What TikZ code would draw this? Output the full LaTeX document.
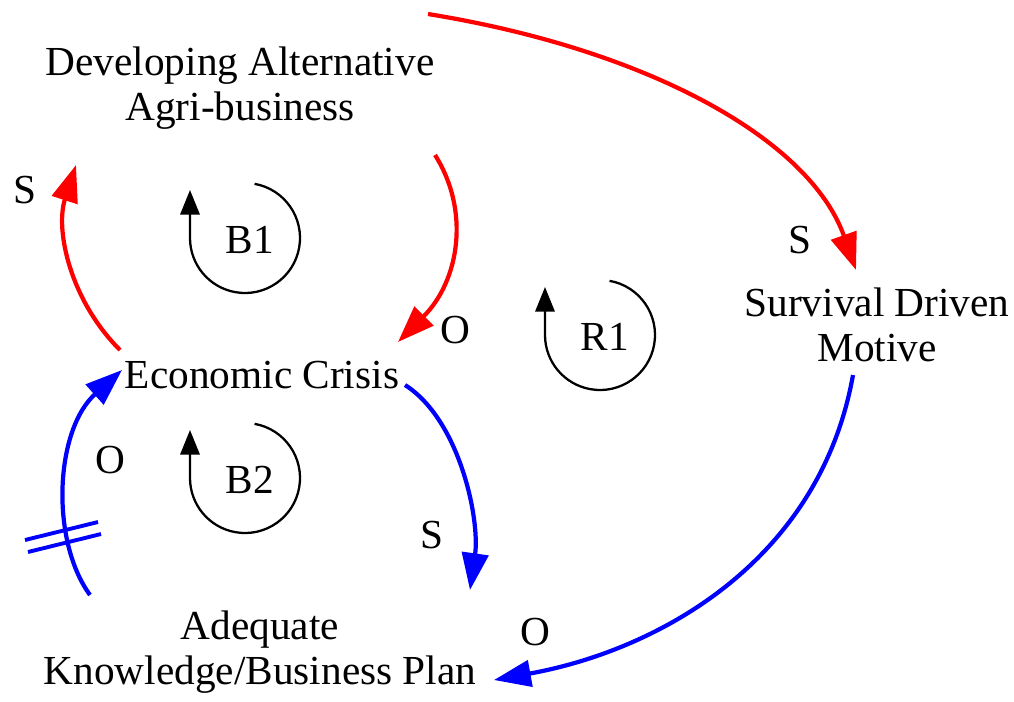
\documentclass[tikz,border=0pt]{standalone}
\usepackage{fontspec}
\setmainfont{Liberation Serif}
\usetikzlibrary{arrows.meta}
\begin{document}
\begin{tikzpicture}[x=0.02cm,y=-0.02cm,
  lbl/.style={font=\fontsize{23.5}{26}\selectfont,align=center,inner sep=1pt},
  conn/.style={line width=2.4pt,-{Triangle[length=21pt,width=15pt]}},
  loopar/.style={line width=1.3pt,-{Triangle[length=14pt,width=11pt]}}]
\useasboundingbox (0,0) rectangle (1014,701);
\node[lbl] (dev) at (240,88) {Developing Alternative\\Agri-business};
\node[lbl] (sur) at (877,325) {Survival Driven\\Motive};
\node[lbl] (eco) at (262,375) {Economic Crisis};
\node[lbl] (ade) at (260,652) {Adequate\\Knowledge/Business Plan};
\coordinate (a1) at (120,350); \coordinate (a2) at (76,165);
\coordinate (b1) at (435,155); \coordinate (b2) at (398,342);
\coordinate (c1) at (428,14); \coordinate (c2) at (856,270);
\coordinate (d1) at (405,385); \coordinate (d2) at (470,590);
\coordinate (e1) at (853,375); \coordinate (e2) at (494,680);
\coordinate (f1) at (90,595); \coordinate (f2) at (122,370);
\draw[conn,red] (a1) .. controls (70,300) and (55,230) .. (a2);
\draw[conn,red] (b1) .. controls (470,210) and (460,280) .. (b2);
\draw[conn,red] (c1) .. controls (650,50) and (810,140) .. (c2);
\draw[conn,blue] (d1) .. controls (460,420) and (480,520) .. (d2);
\draw[conn,blue] (e1) .. controls (820,560) and (660,650) .. (e2);
\draw[conn,blue] (f1) .. controls (50,540) and (55,430) .. (f2);
\draw[blue,line width=2.2pt] (25,540) -- (98,522) (28,552) -- (101,534);
\foreach \cx/\cy/\t in {245/238/B1,245/478/B2,600/335/R1}{
  \draw[loopar] (\cx,\cy) ++(280:55) arc (280:540:55) -- ++(0,-48);
  \node[lbl] at (\cx+5,\cy+2) {\t};
}
\node[lbl] at (25,190) {S};
\node[lbl] at (455,330) {O};
\node[lbl] at (800,240) {S};
\node[lbl] at (110,460) {O};
\node[lbl] at (432,535) {S};
\node[lbl] at (535,632) {O};
\end{tikzpicture}
\end{document}
